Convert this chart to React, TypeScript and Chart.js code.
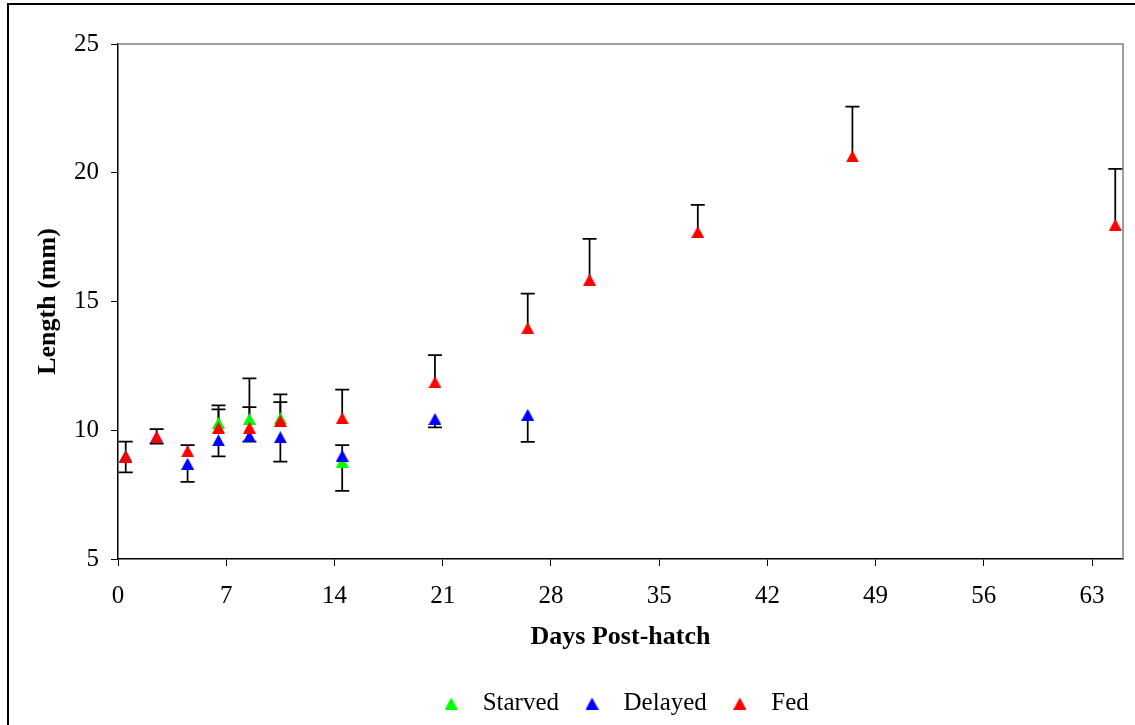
import React, { useEffect, useRef } from "react";
import { Chart, registerables } from "chart.js";

Chart.register(...registerables);

// ---- Data ----
const starvedDays = [0.5, 6.5, 8.5, 10.5, 14.5];
const starvedLength = [9.0, 10.29, 10.44, 10.47, 8.78];
const starvedErrPlus = [0, 0.68, 0.46, 0.62, 0];
const starvedErrMinus = [0, 0, 0, 0, 1.13];

const delayedDays = [0.5, 2.5, 4.5, 6.5, 8.5, 10.5, 14.5, 20.5, 26.5];
const delayedLength = [8.98, 9.74, 8.7, 9.61, 9.77, 9.73, 9.01, 10.44, 10.6];
const delayedErrPlus = [0, 0, 0, 0, 0, 0, 0.41, 0, 0];
const delayedErrMinus = [0.62, 0.26, 0.7, 0.62, 0.21, 0.95, 0, 0.33, 1.05];

const fedDays = [0.5, 2.5, 4.5, 6.5, 8.5, 10.5, 14.5, 20.5, 26.5, 30.5, 37.5, 47.5, 64.5];
const fedLength = [8.98, 9.74, 9.19, 10.1, 10.1, 10.37, 10.47, 11.87, 13.97, 15.85, 17.7, 20.64, 17.98];
const fedErrPlus = [0.58, 0.3, 0.23, 0.71, 1.91, 1.02, 1.11, 1.05, 1.34, 1.58, 1.05, 1.93, 2.17];
const fedErrMinus = [0, 0, 0, 0, 0, 0, 0, 0, 0, 0, 0, 0, 0];

const xTicks = [0, 7, 14, 21, 28, 35, 42, 49, 56, 63];
const yTicks = [5, 10, 15, 20, 25];

const seriesNames = ["Starved", "Delayed", "Fed"];
const seriesColors = ["#00FF00", "#0000FF", "#FF0000"];

const FONT = "'Liberation Serif', 'Times New Roman', serif";

function makeTriangle(color: string, w: number, h: number) {
  const c = document.createElement("canvas");
  c.width = w;
  c.height = h;
  const ctx = c.getContext("2d")!;
  ctx.fillStyle = color;
  ctx.beginPath();
  ctx.moveTo(w / 2, 0);
  ctx.lineTo(w, h);
  ctx.lineTo(0, h);
  ctx.closePath();
  ctx.fill();
  return c;
}

const errorBarPlugin = {
  id: "errorBars",
  beforeDatasetsDraw(chart: any) {
    const ctx = chart.ctx;
    const yScale = chart.scales.y;
    ctx.save();
    ctx.strokeStyle = "#000";
    ctx.lineWidth = 1.75;
    chart.data.datasets.forEach((ds: any, i: number) => {
      const meta = chart.getDatasetMeta(i);
      meta.data.forEach((el: any, j: number) => {
        const v = ds.data[j].y;
        const plus = ds.errPlus[j];
        const minus = ds.errMinus[j];
        const x = el.x;
        const y0 = yScale.getPixelForValue(v);
        const ends: number[] = [];
        if (plus > 0) ends.push(yScale.getPixelForValue(v + plus));
        if (minus > 0) ends.push(yScale.getPixelForValue(v - minus));
        ends.forEach((ye) => {
          ctx.beginPath();
          ctx.moveTo(x, y0);
          ctx.lineTo(x, ye);
          ctx.moveTo(x - 7, ye);
          ctx.lineTo(x + 7, ye);
          ctx.stroke();
        });
      });
    });
    ctx.restore();
  },
};

const plotBorderPlugin = {
  id: "plotBorder",
  beforeDatasetsDraw(chart: any) {
    const { ctx, chartArea } = chart;
    ctx.save();
    ctx.strokeStyle = "#808080";
    ctx.lineWidth = 1.5;
    ctx.beginPath();
    ctx.moveTo(chartArea.left, chartArea.top);
    ctx.lineTo(chartArea.right, chartArea.top);
    ctx.lineTo(chartArea.right, chartArea.bottom);
    ctx.stroke();
    ctx.restore();
  },
};

export default function App() {
  const canvasRef = useRef<HTMLCanvasElement | null>(null);

  useEffect(() => {
    if (!canvasRef.current) return;
    const tris = seriesColors.map((c) => makeTriangle(c, 13, 12));
    const mk = (days: number[], vals: number[]) => days.map((d, i) => ({ x: d, y: vals[i] }));
    const datasets: any[] = [
      {
        label: seriesNames[0],
        data: mk(starvedDays, starvedLength),
        errPlus: starvedErrPlus,
        errMinus: starvedErrMinus,
        order: 3,
      },
      {
        label: seriesNames[1],
        data: mk(delayedDays, delayedLength),
        errPlus: delayedErrPlus,
        errMinus: delayedErrMinus,
        order: 2,
      },
      {
        label: seriesNames[2],
        data: mk(fedDays, fedLength),
        errPlus: fedErrPlus,
        errMinus: fedErrMinus,
        order: 1,
      },
    ].map((d, i) => ({
      ...d,
      pointStyle: tris[i],
      pointRadius: 6,
      pointHoverRadius: 6,
      backgroundColor: seriesColors[i],
      borderColor: seriesColors[i],
      showLine: false,
    }));

    const chart = new Chart(canvasRef.current, {
      type: "scatter",
      data: { datasets },
      plugins: [plotBorderPlugin, errorBarPlugin],
      options: {
        responsive: false,
        animation: false,
        layout: { padding: { left: 33, top: 44, right: 12, bottom: 0 } },
        plugins: {
          tooltip: { enabled: false },
          legend: {
            position: "bottom",
            fullSize: false,
            labels: {
              usePointStyle: true,
              pointStyleWidth: 38,
              padding: 14,
              color: "#000",
              font: { family: FONT, size: 25 },
              sort: (a: any, b: any) => a.datasetIndex - b.datasetIndex,
            },
          },
        },
        scales: {
          x: {
            type: "linear",
            min: 0,
            max: 65,
            afterBuildTicks: (s: any) => {
              s.ticks = xTicks.map((v) => ({ value: v }));
            },
            afterFit: (s: any) => {
              s.height = 118;
            },
            ticks: {
              autoSkip: false,
              maxRotation: 0,
              padding: 15,
              color: "#000",
              font: { family: FONT, size: 25 },
            },
            grid: { drawOnChartArea: false, tickLength: 7, color: "#000", lineWidth: 1 },
            border: { color: "#000", width: 1.5 },
            title: {
              display: true,
              text: "Days Post-hatch",
              color: "#000",
              font: { family: FONT, size: 26, weight: "bold" },
              padding: { top: 0, bottom: 24.4 },
            },
          },
          y: {
            type: "linear",
            min: 5,
            max: 25,
            afterBuildTicks: (s: any) => {
              s.ticks = yTicks.map((v) => ({ value: v }));
            },
            afterFit: (s: any) => {
              s.width = 85;
            },
            ticks: {
              padding: 12,
              color: "#000",
              font: { family: FONT, size: 25 },
            },
            grid: { drawOnChartArea: false, tickLength: 7, color: "#000", lineWidth: 1 },
            border: { color: "#000", width: 1.5 },
            title: {
              display: true,
              text: "Length (mm)",
              color: "#000",
              font: { family: FONT, size: 26, weight: "bold" },
              padding: { top: 0, bottom: 0 },
            },
          },
        },
      } as any,
    });
    return () => chart.destroy();
  }, []);

  return (
    <div
      style={{
        position: "fixed",
        left: 0,
        top: 0,
        width: 1135,
        height: 725,
        overflow: "hidden",
        background: "#fff",
      }}
    >
      <div
        style={{
          position: "absolute",
          left: 7,
          top: 3,
          width: 1200,
          height: 800,
          border: "2px solid #000",
        }}
      />
      <canvas
        ref={canvasRef}
        width={1135}
        height={726}
        style={{ position: "absolute", left: 0, top: 0, display: "block" }}
      />
    </div>
  );
}
